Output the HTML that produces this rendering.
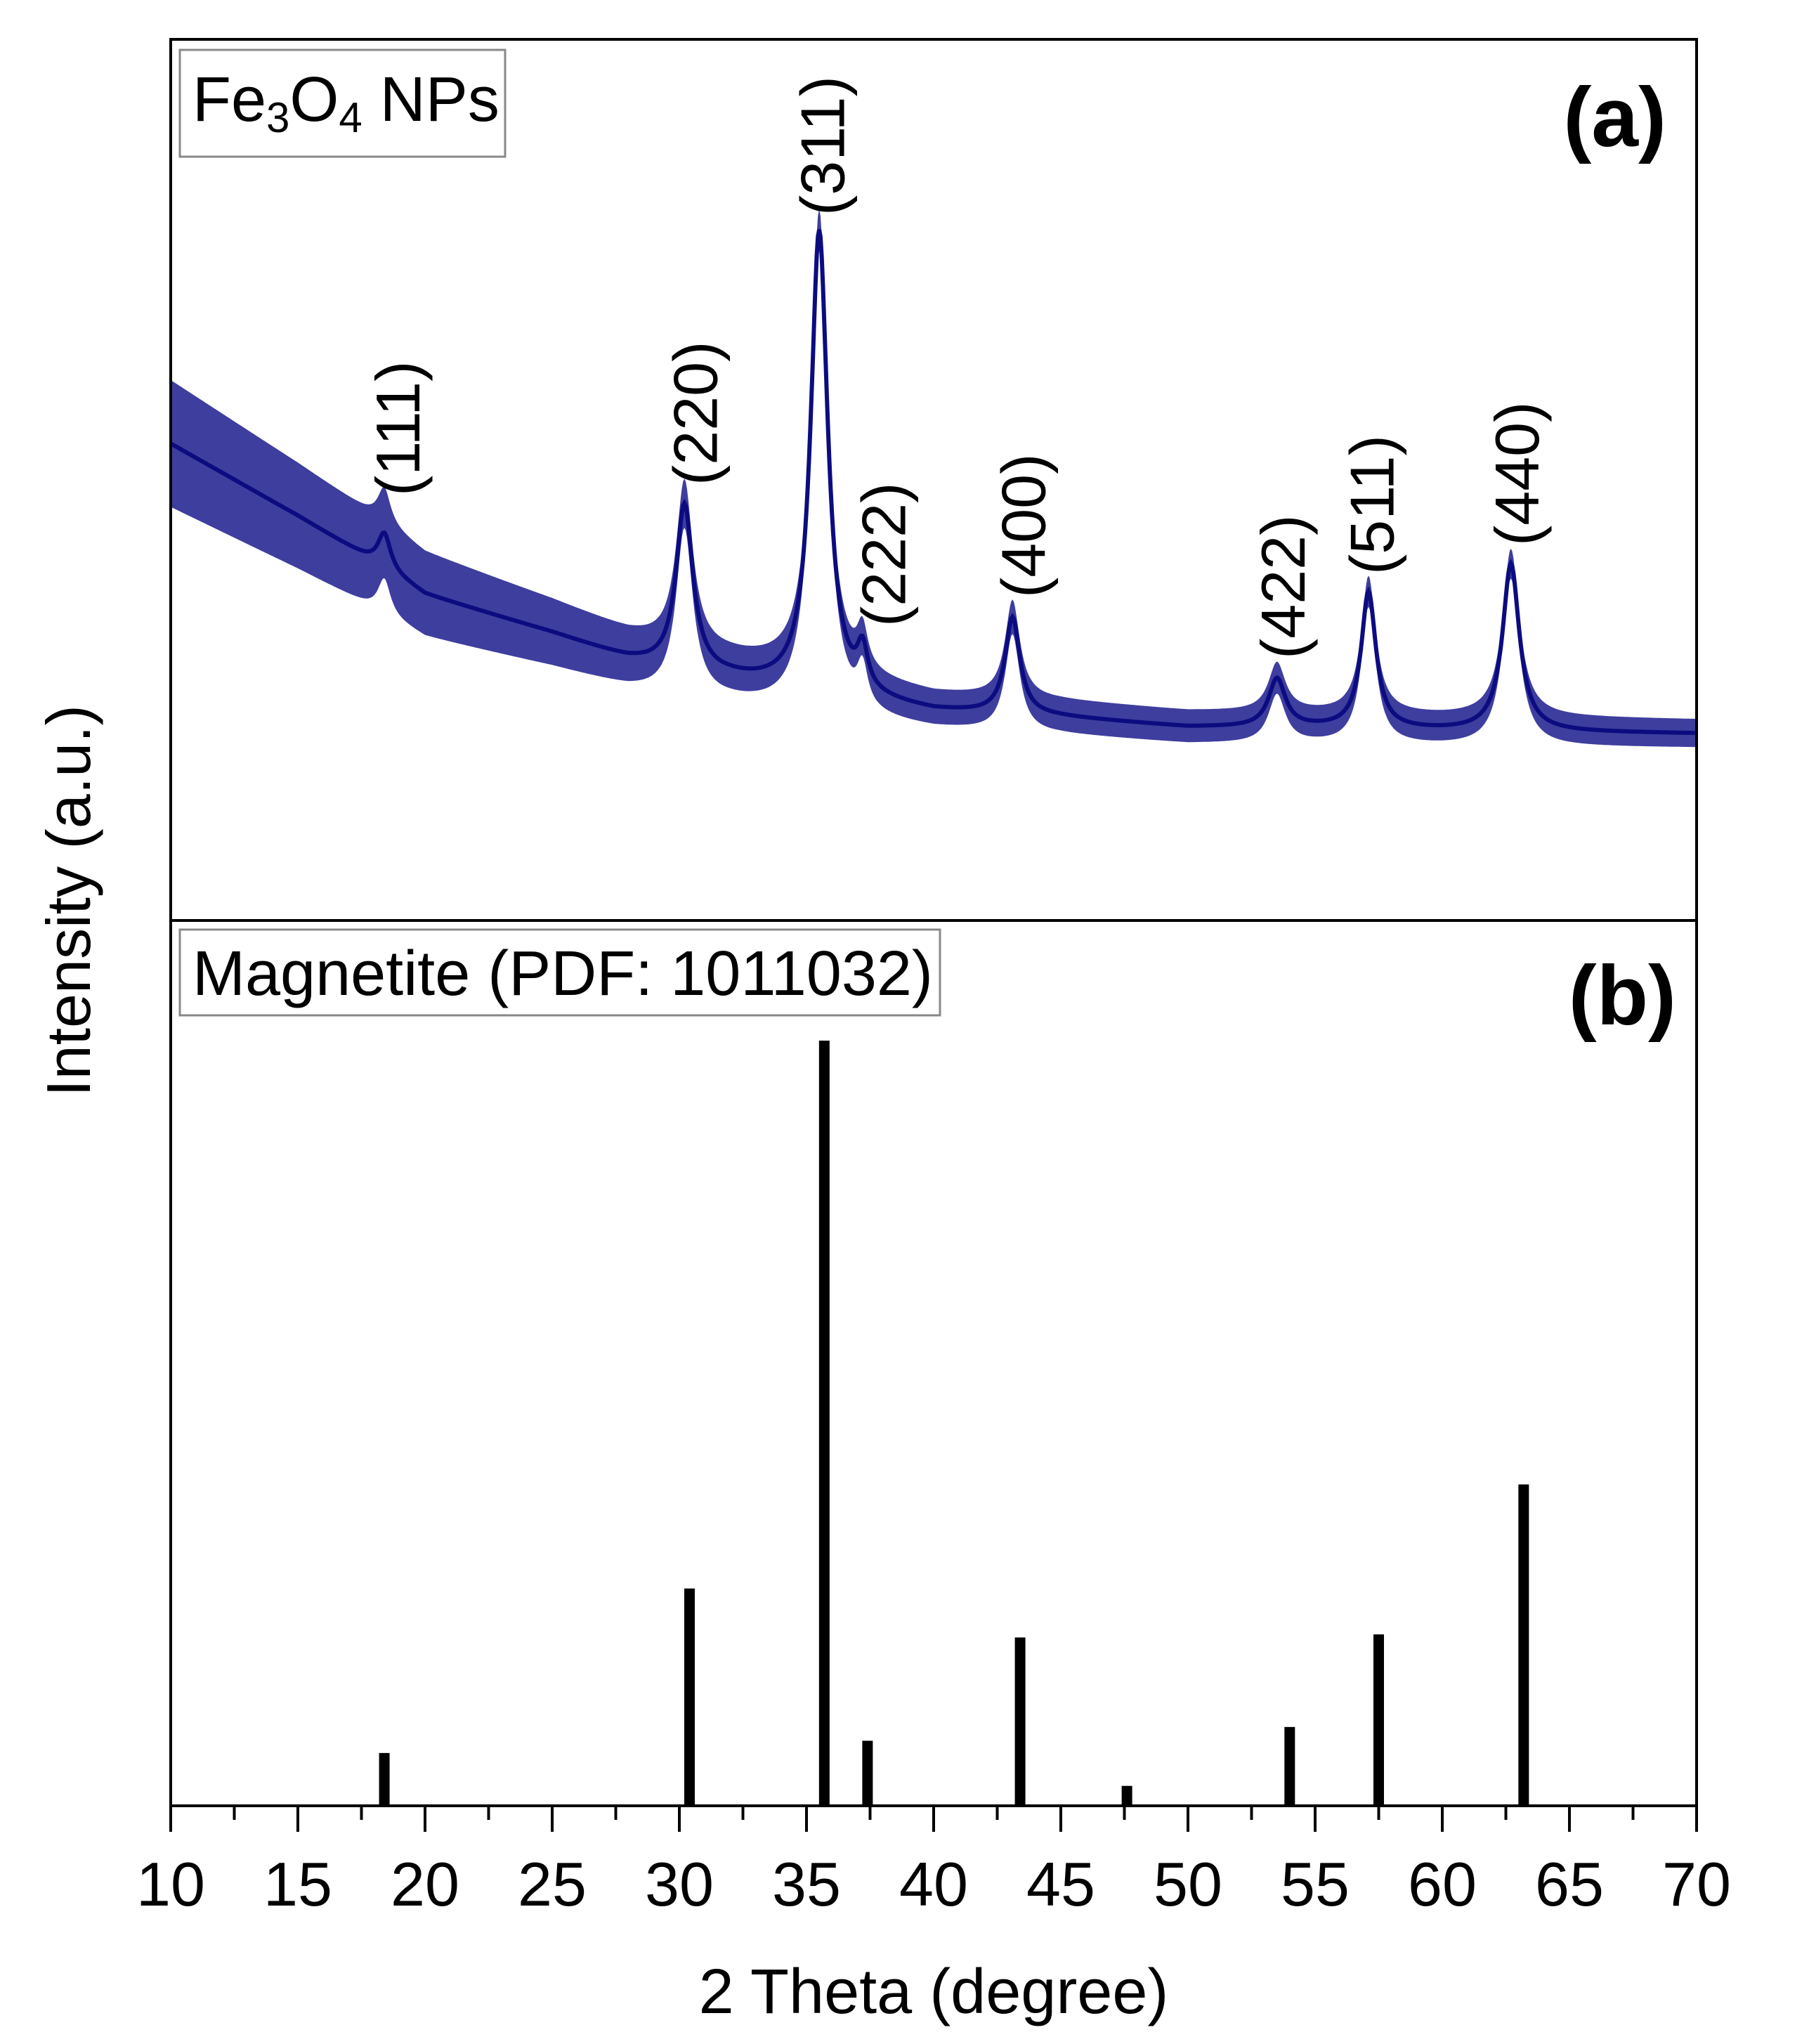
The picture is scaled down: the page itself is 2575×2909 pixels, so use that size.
<!DOCTYPE html>
<html><head><meta charset="utf-8"><style>
html,body{margin:0;padding:0;background:#fff;}
svg{display:block;font-family:"Liberation Sans",Arial,sans-serif;}
</style></head><body>
<svg id="chart" width="2575" height="2909" viewBox="0 0 2575 2909" xmlns="http://www.w3.org/2000/svg">
<rect width="2575" height="2909" fill="#fff"/>
<g id="plotA"></g>
<g id="plotB"></g>
<rect x="243" y="56" width="2172" height="2514" fill="none" stroke="#000" stroke-width="4"/>
<line x1="243" y1="1310" x2="2415" y2="1310" stroke="#000" stroke-width="4"/>
<g id="xaxis"></g>
<g>
<rect x="256" y="71" width="463" height="152" fill="#fff" stroke="#888" stroke-width="3"/>
<text x="274" y="172" font-size="90" fill="#000">Fe<tspan font-size="60" dy="16">3</tspan><tspan dy="-16">O</tspan><tspan font-size="60" dy="16">4</tspan><tspan dy="-16"> NPs</tspan></text>
</g>
<g>
<rect x="256" y="1323" width="1082" height="122" fill="#fff" stroke="#888" stroke-width="3"/>
<text x="274" y="1416" font-size="90" fill="#000">Magnetite (PDF: 1011032)</text>
</g>
<text x="2372" y="208" font-size="120" font-weight="bold" text-anchor="end">(a)</text>
<text x="2386" y="1458" font-size="120" font-weight="bold" text-anchor="end">(b)</text>
<text x="0" y="0" font-size="88" text-anchor="middle" transform="translate(128,1282) rotate(-90)">Intensity (a.u.)</text>
<text x="1329" y="2865" font-size="90" text-anchor="middle">2 Theta (degree)</text>
<g id="hkl" font-size="88"></g>
</svg>
<script>
// Panel (a) measured pattern: background anchors, peaks, noise band
const bgTheta=[10,15,18,20,25,28,30,32,35,40,45,50,55,60,70];
const bgInt=[541,459,407,370,326,296,281,274,259,237,230,219,218,215,212];
const peakTheta=[18.4,30.2,35.5,37.2,43.1,53.5,57.1,62.7];
const peakHeight=[40,190,525,45,110,55,155,190];
const peakWidth=[0.6,0.8,0.8,0.5,0.7,0.8,0.7,0.8];
const noiseTheta=[10,20,30,40,70];
const noiseAmp=[72,48,28,20,16];
// Panel (b) reference sticks
const refTheta=[18.4,30.4,35.7,37.4,43.4,47.6,54.0,57.5,63.2];
const refInt=[6.9,28.4,100,8.5,22,2.6,10.3,22.4,42];
// axis ticks
const xTicks=[10,15,20,25,30,35,40,45,50,55,60,65,70];
const hklLabels=["(111)","(220)","(311)","(222)","(400)","(422)","(511)","(440)"];
const hklTheta=[18.9,30.6,35.6,38.0,43.5,53.7,57.2,62.9];
const hklBottom=[706,691,307,892,851,938,818,777];

const NS="http://www.w3.org/2000/svg";
const Sx=x=>243+(x-10)*2172/60;
const Ya=v=>1310-v*1.254;
const Yb=v=>2570-v*10.89;
function interp(xs,ys,x){if(x<=xs[0])return ys[0];for(let i=1;i<xs.length;i++){if(x<=xs[i]){const t=(x-xs[i-1])/(xs[i]-xs[i-1]);return ys[i-1]+t*(ys[i]-ys[i-1]);}}return ys[ys.length-1];}
function profile(x){let v=interp(bgTheta,bgInt,x);for(let i=0;i<peakTheta.length;i++){const d=(x-peakTheta[i])/(peakWidth[i]/2);v+=peakHeight[i]/(1+d*d);}return v;}
const A=document.getElementById('plotA');
let up=[],lo=[],mid=[];
for(let x=10;x<=70.0001;x+=0.05){const v=profile(x),a=interp(noiseTheta,noiseAmp,x);up.push(Sx(x).toFixed(1)+','+Ya(v+a).toFixed(1));lo.unshift(Sx(x).toFixed(1)+','+Ya(v-a).toFixed(1));mid.push(Sx(x).toFixed(1)+','+Ya(v).toFixed(1));}
const band=document.createElementNS(NS,'polygon');
band.setAttribute('points',up.concat(lo).join(' '));band.setAttribute('fill','#1c1c8e');band.setAttribute('fill-opacity','0.85');


A.appendChild(band);
const line=document.createElementNS(NS,'polyline');
line.setAttribute('points',mid.join(' '));line.setAttribute('fill','none');line.setAttribute('stroke','#0c0c80');line.setAttribute('stroke-width','6');


A.appendChild(line);
const B=document.getElementById('plotB');
refTheta.forEach((t,i)=>{const r=document.createElementNS(NS,'rect');const y=Yb(refInt[i]);r.setAttribute('x',Sx(t)-7.5);r.setAttribute('y',y);r.setAttribute('width',15);r.setAttribute('height',2570-y);r.setAttribute('fill','#000');


B.appendChild(r);});
const X=document.getElementById('xaxis');
for(let v=10;v<=70;v+=2.5){const major=xTicks.includes(v);const l=document.createElementNS(NS,'line');l.setAttribute('x1',Sx(v));l.setAttribute('x2',Sx(v));l.setAttribute('y1',2570);l.setAttribute('y2',major?2607:2590);l.setAttribute('stroke','#000');l.setAttribute('stroke-width','4');


X.appendChild(l);}
xTicks.forEach(v=>{const t=document.createElementNS(NS,'text');t.setAttribute('x',Sx(v));t.setAttribute('y',2712);t.setAttribute('font-size','88');t.setAttribute('text-anchor','middle');t.textContent=String(v);


X.appendChild(t);});
const H=document.getElementById('hkl');
hklLabels.forEach((s,i)=>{const x=Sx(hklTheta[i])+32;const y=hklBottom[i];const t=document.createElementNS(NS,'text');t.setAttribute('transform','translate('+x+','+y+') rotate(-90)');t.textContent=s;


H.appendChild(t);});
</script>
</body></html>
